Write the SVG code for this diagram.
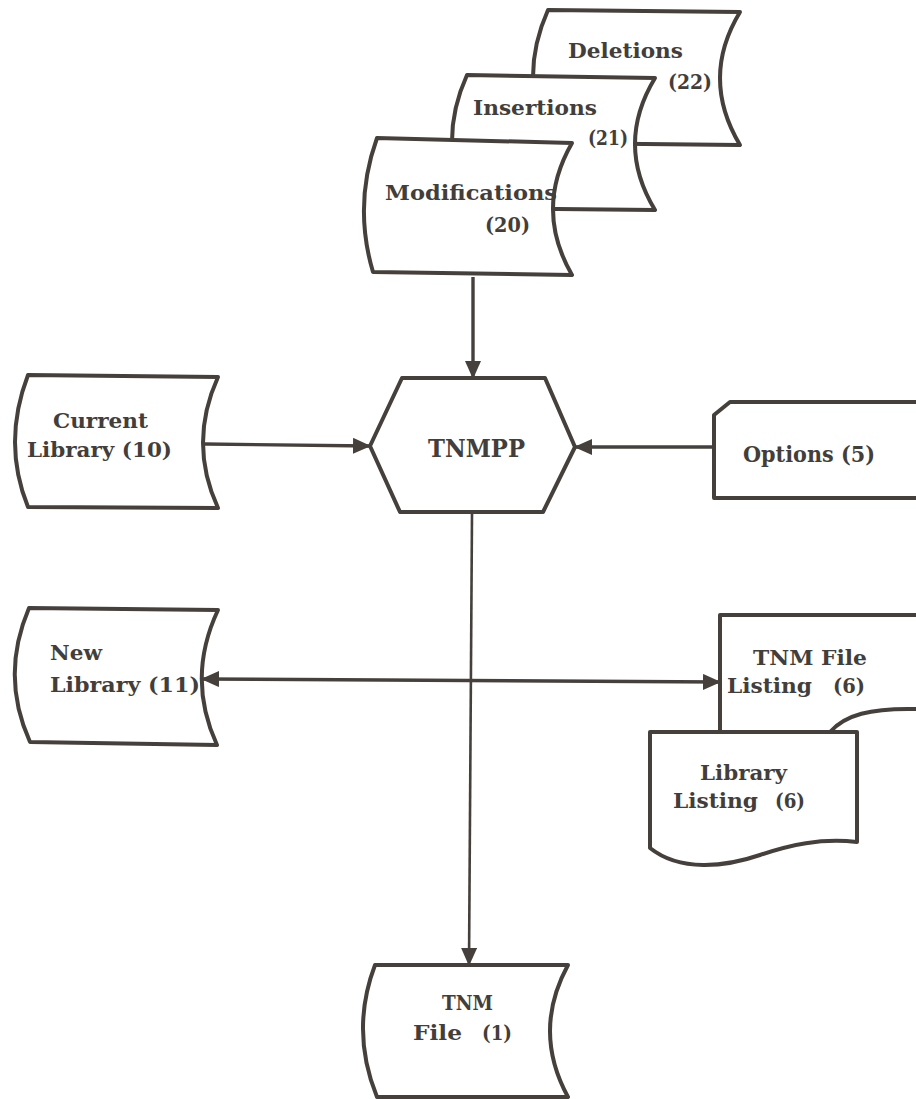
<svg xmlns="http://www.w3.org/2000/svg" width="916" height="1099" viewBox="0 0 916 1099">
  <style>
    .shape { fill: #ffffff; stroke: #45403b; stroke-width: 4; stroke-linejoin: round; }
    .link { fill: none; stroke: #45403b; stroke-width: 3.4; }
    .thin { stroke-width: 2.6; }
    text { font-family: "DejaVu Serif", "Liberation Serif", serif; font-weight: bold; fill: #433e39; font-size: 21px; }
    .mid { font-size: 23px; }
    .big { font-size: 25px; }
  </style>
  <defs>
    <marker id="arrow" viewBox="0 0 18 16" markerUnits="userSpaceOnUse" markerWidth="18" markerHeight="16" refX="17" refY="8" orient="auto-start-reverse">
      <path d="M0,0 L18,8 L0,16 Z" fill="#45403b"/>
    </marker>
  </defs>
  <rect width="916" height="1099" fill="#ffffff"/>

  <!-- stacked transaction decks -->
  <g id="deletions">
    <path class="shape" d="M548,10 L740,12 Q700,78 740,145 L548,143 Q518,77 548,10 Z"/>
    <text x="568" y="58" textLength="115" lengthAdjust="spacingAndGlyphs">Deletions</text>
    <text x="668" y="89" textLength="44" lengthAdjust="spacingAndGlyphs">(22)</text>
  </g>
  <g id="insertions">
    <path class="shape" d="M467,75 L655,78 Q615,144 655,210 L467,208 Q437,141 467,75 Z"/>
    <text x="473" y="115" textLength="124" lengthAdjust="spacingAndGlyphs">Insertions</text>
    <text x="588" y="145" textLength="40" lengthAdjust="spacingAndGlyphs">(21)</text>
  </g>
  <g id="modifications">
    <path class="shape" d="M377,138 L572,143 Q534,209 572,275 L373,272 Q353,205 377,138 Z"/>
    <text x="385" y="200" textLength="172" lengthAdjust="spacingAndGlyphs">Modifications</text>
    <text x="485" y="232" textLength="45" lengthAdjust="spacingAndGlyphs">(20)</text>
  </g>

  <!-- processing step -->
  <g id="tnmpp">
    <path class="shape" d="M402,378 L545,378 L575,447 L543,512 L400,512 L370,446 Z"/>
    <text class="big" x="428" y="457" textLength="97" lengthAdjust="spacingAndGlyphs">TNMPP</text>
  </g>

  <g id="current-library">
    <path class="shape" d="M28,375 L218,377 Q188,443 218,508 L28,507 Q2,443 28,375 Z"/>
    <text x="53" y="428" textLength="95" lengthAdjust="spacingAndGlyphs">Current</text>
    <text x="27" y="457" textLength="145" lengthAdjust="spacingAndGlyphs">Library (10)</text>
  </g>

  <g id="options">
    <path class="shape" d="M930,402 L730,402 L714,415 L714,498 L930,498"/>
    <text class="mid" x="743" y="462" textLength="132" lengthAdjust="spacingAndGlyphs">Options (5)</text>
  </g>

  <g id="new-library">
    <path class="shape" d="M29,608 L218,610 Q186,678 217,745 L30,742 Q0,676 29,608 Z"/>
    <text x="50" y="660" textLength="52" lengthAdjust="spacingAndGlyphs">New</text>
    <text x="50" y="692" textLength="150" lengthAdjust="spacingAndGlyphs">Library (11)</text>
  </g>

  <!-- printed listings -->
  <g id="tnm-file-listing">
    <path class="shape" d="M720,732 L720,615 L930,615 L930,709 L916,709 C870,708 845,715 830,732 Z"/>
    <text x="753" y="665" textLength="114" lengthAdjust="spacingAndGlyphs">TNM File</text>
    <text x="727" y="693"><tspan textLength="85" lengthAdjust="spacingAndGlyphs">Listing</tspan><tspan x="833" textLength="32" lengthAdjust="spacingAndGlyphs">(6)</tspan></text>
  </g>
  <g id="library-listing">
    <path class="shape" d="M650,732 L857,732 L857,842 C820,838 790,845 760,855 C725,867 680,872 650,848 Z"/>
    <text x="700" y="780" textLength="87" lengthAdjust="spacingAndGlyphs">Library</text>
    <text x="673" y="808"><tspan textLength="85" lengthAdjust="spacingAndGlyphs">Listing</tspan><tspan x="775" textLength="30" lengthAdjust="spacingAndGlyphs">(6)</tspan></text>
  </g>

  <g id="tnm-file">
    <path class="shape" d="M375,965 L568,965 Q532,1031 568,1097 L377,1097 Q350,1031 375,965 Z"/>
    <text x="442" y="1010" textLength="51" lengthAdjust="spacingAndGlyphs">TNM</text>
    <text x="413" y="1040"><tspan textLength="49" lengthAdjust="spacingAndGlyphs">File</tspan><tspan x="482" textLength="30" lengthAdjust="spacingAndGlyphs">(1)</tspan></text>
  </g>

  <!-- connectors -->
  <g id="connectors">
    <line class="link" x1="473" y1="277" x2="473" y2="378" marker-end="url(#arrow)"/>
    <line class="link" x1="205" y1="444" x2="370" y2="446" marker-end="url(#arrow)"/>
    <line class="link" x1="714" y1="447" x2="575" y2="447" marker-end="url(#arrow)"/>
    <line class="link thin" x1="472" y1="514" x2="469" y2="965" marker-end="url(#arrow)"/>
    <line class="link" x1="202" y1="679" x2="720" y2="682" marker-start="url(#arrow)" marker-end="url(#arrow)"/>
  </g>
</svg>
